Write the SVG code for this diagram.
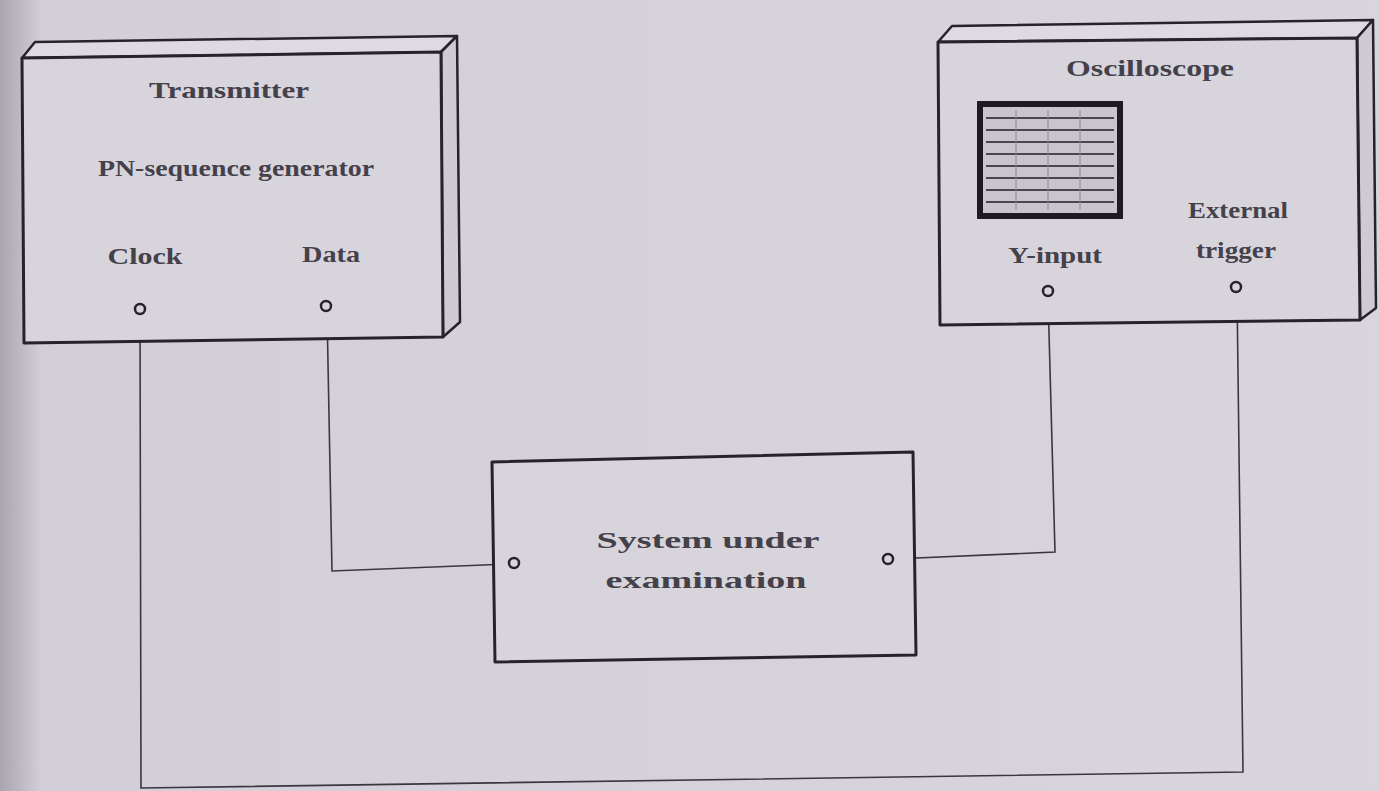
<svg xmlns="http://www.w3.org/2000/svg" width="1379" height="791" viewBox="0 0 1379 791">
<defs>
<linearGradient id="bg" x1="0" y1="0" x2="1" y2="0">
<stop offset="0" stop-color="#a9a5ae"/>
<stop offset="0.03" stop-color="#d3cfd8"/>
<stop offset="1" stop-color="#d9d5dd"/>
</linearGradient>
</defs>
<style>
.box{fill:#d8d4dc;stroke:#26232b;stroke-width:3;stroke-linejoin:round}
.side{fill:#cfcbd3;stroke:#26232b;stroke-width:2.5;stroke-linejoin:round}
.top{fill:#dedae2;stroke:#26232b;stroke-width:2.5;stroke-linejoin:round}
.wire{fill:none;stroke:#3a3740;stroke-width:1.6}
.port{fill:#d8d4dc;stroke:#26232b;stroke-width:2.5}
.t{font-family:"Liberation Serif",serif;font-size:24px;font-weight:bold;fill:#45414b;text-anchor:middle}
</style>
<rect width="1379" height="791" fill="url(#bg)"/>
<g id="connectors">
<polyline class="wire" points="140,314 141,788 1243,772 1237,292"/>
<polyline class="wire" points="327,311 332,571 509,564"/>
<polyline class="wire" points="1048,296 1055,552 893,559"/>
</g>
<g id="transmitter">
<polygon class="top" points="22,58 35,42 457,36 441,52"/>
<polygon class="side" points="441,52 457,36 460,322 443,337"/>
<polygon class="box" points="22,58 441,52 443,337 24,343"/>
<text class="t" x="229" y="98" textLength="160" lengthAdjust="spacingAndGlyphs">Transmitter</text>
<text class="t" x="236" y="176" textLength="276" lengthAdjust="spacingAndGlyphs">PN-sequence generator</text>
<text class="t" x="145" y="264" textLength="75" lengthAdjust="spacingAndGlyphs">Clock</text>
<text class="t" x="331" y="262" textLength="58" lengthAdjust="spacingAndGlyphs">Data</text>
<circle class="port" cx="140" cy="309" r="5"/>
<circle class="port" cx="326" cy="306" r="5"/>
</g>
<g id="oscilloscope">
<polygon class="top" points="938,42 952,26 1373,20 1357,38"/>
<polygon class="side" points="1357,38 1373,20 1376,308 1360,320"/>
<polygon class="box" points="938,42 1357,38 1360,320 940,325"/>
<text class="t" x="1150" y="76" textLength="168" lengthAdjust="spacingAndGlyphs">Oscilloscope</text>
<rect x="980" y="104" width="140" height="112" fill="#c9c5cd" stroke="#1e1b22" stroke-width="6"/>
<g stroke="#4a4650" stroke-width="2">
<line x1="986" y1="118" x2="1114" y2="118"/>
<line x1="986" y1="130" x2="1114" y2="130"/>
<line x1="986" y1="142" x2="1114" y2="142"/>
<line x1="986" y1="154" x2="1114" y2="154"/>
<line x1="986" y1="166" x2="1114" y2="166"/>
<line x1="986" y1="178" x2="1114" y2="178"/>
<line x1="986" y1="190" x2="1114" y2="190"/>
<line x1="986" y1="202" x2="1114" y2="202"/>
</g>
<g stroke="#8a8690" stroke-width="1">
<line x1="1016" y1="110" x2="1016" y2="210"/>
<line x1="1048" y1="110" x2="1048" y2="210"/>
<line x1="1080" y1="110" x2="1080" y2="210"/>
</g>
<text class="t" x="1055" y="263" textLength="94" lengthAdjust="spacingAndGlyphs">Y-input</text>
<text class="t" x="1238" y="218" textLength="100" lengthAdjust="spacingAndGlyphs">External</text>
<text class="t" x="1236" y="258" textLength="80" lengthAdjust="spacingAndGlyphs">trigger</text>
<circle class="port" cx="1048" cy="291" r="5"/>
<circle class="port" cx="1236" cy="287" r="5"/>
</g>
<g id="system">
<polygon class="box" points="492,462 913,452 916,655 495,662"/>
<text class="t" x="708" y="548" textLength="223" lengthAdjust="spacingAndGlyphs">System under</text>
<text class="t" x="706" y="588" textLength="201" lengthAdjust="spacingAndGlyphs">examination</text>
<circle class="port" cx="514" cy="563" r="5"/>
<circle class="port" cx="888" cy="559" r="5"/>
</g>
</svg>
